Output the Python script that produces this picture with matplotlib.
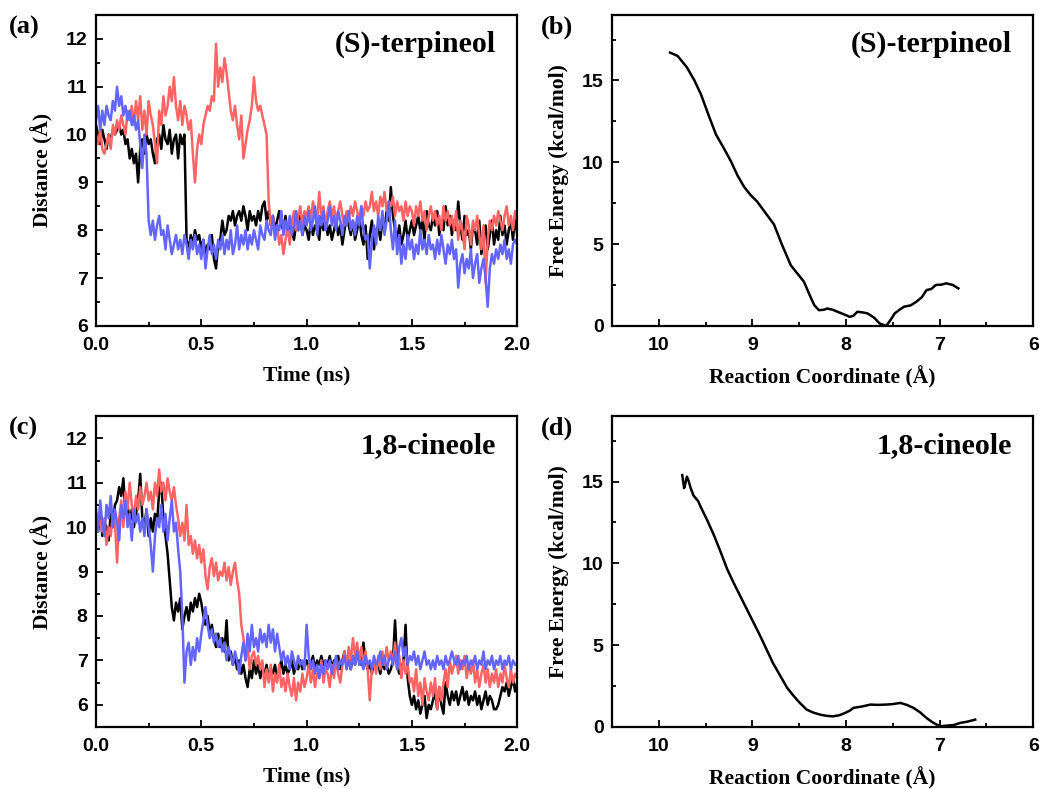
import numpy as np
import matplotlib
matplotlib.use("Agg")
import matplotlib.pyplot as plt
from matplotlib.ticker import MultipleLocator

# ---------------- data ----------------
# panel (a): (S)-terpineol distance traces, sampled every 0.01 ns (0 - 2 ns)
terp_black = [
    10.2, 10.0, 9.8, 10.1, 9.9, 9.7, 10.0, 9.9, 10.1, 10.0,
    10.1, 10.2, 10.0, 10.1, 9.8, 9.9, 9.5, 9.7, 9.4, 9.6,
    9.0, 9.7, 9.9, 9.6, 10.0, 9.8, 9.9, 9.6, 9.4, 9.9,
    10.0, 9.7, 10.2, 9.9, 9.8, 10.1, 9.6, 9.9, 10.0, 9.5,
    10.0, 9.8, 10.0, 7.8, 7.6, 7.9, 7.7, 8.0, 7.8, 7.9,
    7.6, 7.8, 7.5, 7.7, 7.6, 7.9, 7.4, 7.2, 7.7, 7.8,
    8.2, 7.9, 8.0, 8.3, 8.2, 8.4, 8.1, 8.3, 8.4, 8.2,
    8.5, 8.3, 8.0, 8.4, 8.2, 8.3, 8.1, 8.4, 8.2, 8.5,
    8.6, 8.2, 8.4, 8.1, 8.3, 8.0, 8.2, 8.4, 8.1, 8.0,
    8.3, 7.9, 8.2, 8.0, 7.8, 8.1, 8.0, 8.3, 7.9, 8.1,
    8.0, 7.8, 8.2, 7.9, 8.1, 8.0, 7.8, 8.3, 8.0, 8.2,
    7.9, 8.1, 7.8, 8.0, 8.2, 7.9, 8.1, 7.7, 8.0, 8.3,
    8.1, 7.9, 8.2, 7.8, 8.0, 8.3, 7.9, 7.7, 8.1, 7.4,
    7.9, 8.2, 7.6, 8.0, 8.1, 7.8, 8.2, 8.0, 8.4, 8.2,
    8.9, 8.3, 8.0, 7.8, 8.1, 7.7, 7.9, 8.2, 7.8, 8.0,
    8.2, 7.9, 8.1, 8.3, 8.0, 8.2, 7.8, 8.4, 8.1, 8.0,
    8.3, 8.1, 8.4, 7.9, 8.2, 8.0, 8.5, 8.1, 8.3, 7.9,
    8.2, 8.0, 8.6, 8.1, 7.8, 8.3, 7.9, 8.0, 7.6, 8.1,
    8.0, 7.7, 8.2, 7.5, 7.9, 8.1, 7.6, 7.9, 8.2, 7.7,
    8.0, 7.8, 8.3, 7.9, 8.1, 7.7, 8.0, 8.2, 7.8, 8.3,
    7.9]
terp_red = [
    10.0, 9.8, 10.1, 9.7, 9.6, 9.8, 10.0, 9.7, 10.2, 10.0,
    10.3, 10.1, 10.4, 10.2, 10.0, 10.5, 10.3, 10.6, 10.2, 10.7,
    10.3, 10.8, 10.1, 10.5, 10.0, 10.7, 10.4, 10.2, 9.8, 9.4,
    10.5, 10.2, 10.8, 10.4, 10.6, 11.0, 10.7, 11.2, 10.6, 10.3,
    10.7, 10.2, 10.6, 10.4, 10.1, 10.3, 9.6, 9.0, 9.7, 10.0,
    9.8, 10.2, 10.4, 10.6, 10.5, 10.8, 10.7, 11.9, 11.0, 11.4,
    11.1, 11.6, 11.3, 10.9, 10.5, 10.3, 10.6, 10.2, 9.9, 10.4,
    9.5, 9.8, 10.1, 10.3, 10.6, 11.2, 10.7, 10.5, 10.6, 10.4,
    10.2, 10.0, 8.6, 8.1, 8.3, 7.9, 8.1, 7.7, 7.9, 7.5,
    7.8, 8.1, 7.7, 8.2, 8.4, 8.0, 8.3, 8.5, 8.1, 8.4,
    8.3, 8.5, 8.2, 8.6, 8.4, 8.2, 8.8, 8.3, 8.5, 8.1,
    8.4, 8.6, 8.3, 8.5, 8.2, 8.4, 8.6, 8.3, 8.1, 8.4,
    8.2, 8.5, 8.3, 8.6, 8.4, 8.2, 8.5, 8.3, 8.6, 8.4,
    8.5, 8.8, 8.4, 8.6, 8.3, 8.7, 8.5, 8.8, 8.4, 8.6,
    8.5, 8.7, 8.3, 8.6, 8.4, 8.5, 8.2, 8.6, 8.3, 8.5,
    8.4, 8.1, 8.5, 8.3, 8.6, 8.2, 8.4, 8.0, 8.3, 8.5,
    8.2, 8.4, 8.1, 8.3, 8.0, 8.5, 8.2, 8.4, 8.1, 8.3,
    8.0, 8.4, 7.8, 8.2, 8.0, 7.6, 8.3, 8.1, 7.7, 8.2,
    8.0, 8.3, 7.9, 7.6, 8.1, 6.9, 7.8, 8.2, 8.0, 8.3,
    8.1, 8.4, 8.2, 8.0, 8.3, 8.5, 8.1, 8.3, 8.0, 8.4,
    8.2]
terp_blue = [
    10.3, 10.6, 10.1, 10.5, 10.2, 10.6, 10.4, 10.3, 10.7, 10.5,
    11.0, 10.6, 10.8, 10.4, 10.6, 10.3, 10.5, 10.2, 10.4, 10.1,
    10.3, 9.8, 9.3, 10.0, 9.6, 8.2, 7.9, 8.2, 7.8, 8.1,
    8.3, 7.9, 8.0, 7.6, 8.1, 7.8, 7.5, 7.7, 7.9, 7.6,
    7.8, 7.5, 7.9, 7.7, 7.4, 7.8, 7.6, 7.9, 7.5, 7.7,
    7.4, 7.8, 7.2, 7.6, 7.9, 7.5, 7.7, 7.4, 7.8, 7.6,
    7.9, 7.5, 7.8, 7.6, 8.0, 7.5, 7.7, 8.1, 7.6, 7.9,
    7.7, 8.0, 7.6, 7.9, 7.7, 8.0, 7.8, 7.6, 8.1, 7.9,
    7.8, 8.2, 8.0, 7.9, 8.3, 7.8, 8.1, 8.0, 8.4, 7.9,
    8.2, 8.0, 8.3, 7.9, 8.1, 8.4, 8.0, 8.2, 7.9, 8.3,
    8.1, 8.4, 8.0, 8.2, 8.5, 7.9, 8.3, 8.1, 8.4, 8.0,
    8.2, 8.5, 8.1, 8.3, 8.0, 8.4, 8.2, 7.9, 8.3, 8.1,
    8.4, 8.0, 8.2, 7.9, 8.3, 8.1, 8.5, 8.0, 7.8, 7.9,
    7.2, 7.8, 8.1, 7.7, 8.3, 8.0, 8.4, 7.9, 8.2, 8.6,
    8.0, 7.6, 8.2, 7.5, 7.9, 7.3, 7.7, 7.4, 7.9, 7.6,
    7.8, 7.4, 7.7, 7.5, 8.0, 7.6, 7.8, 7.5, 7.9, 7.6,
    7.7, 7.4, 7.8, 7.5, 7.9, 7.6, 7.3, 7.7, 7.5, 7.8,
    7.4, 7.6, 6.8, 7.3, 7.5, 7.1, 7.4, 7.2, 7.6, 7.0,
    7.3, 7.5, 6.9, 7.2, 7.4, 7.0, 6.4, 7.2, 7.5, 7.3,
    7.6, 7.4, 7.7, 7.5, 7.8, 7.4, 7.6, 7.3, 7.7, 7.8,
    7.7]

# panel (c): 1,8-cineole distance traces, sampled every 0.01 ns
cin_black = [
    10.2, 9.9, 10.4, 9.8, 10.1, 10.0, 9.7, 10.3, 10.0, 10.5,
    10.6, 10.9, 10.7, 11.1, 10.3, 10.5, 10.1, 10.4, 10.0, 10.3,
    10.6, 11.2, 10.2, 10.0, 10.4, 9.8, 10.2, 9.9, 10.3, 10.1,
    10.8, 11.0, 10.2, 9.8, 9.4, 8.8, 8.2, 7.9, 8.3, 8.1,
    8.4, 7.7, 8.0, 8.2, 7.9, 8.3, 8.1, 8.4, 8.2, 8.5,
    8.3, 8.0, 7.8, 8.0, 7.6, 7.8, 7.5, 7.3, 7.6, 7.3,
    7.5, 7.2, 7.9, 7.0, 7.2, 6.9, 7.1, 6.8, 7.0, 6.7,
    6.9, 6.6, 6.4, 6.8, 6.6, 7.0, 6.7, 6.9, 6.6, 6.8,
    6.7, 6.9, 6.6, 6.8, 6.7, 6.9, 6.6, 6.8, 7.0, 6.7,
    6.9, 6.7, 6.8, 7.0, 6.7, 6.9, 6.8, 7.0, 6.8, 6.9,
    7.0, 6.8, 6.9, 7.1, 6.8, 7.0, 6.9, 7.1, 6.9, 7.0,
    6.9, 7.1, 6.8, 7.0, 6.9, 7.1, 6.8, 7.0, 7.2, 6.9,
    7.0, 6.8, 7.1, 6.9, 7.2, 7.0, 6.9, 7.4, 7.0, 6.8,
    6.9, 6.7, 7.0, 6.8, 6.9, 6.7, 7.0, 6.8, 6.9, 6.7,
    6.8, 7.0, 7.9, 6.9, 6.7, 6.8, 7.0, 7.8, 6.6, 6.2,
    6.0, 6.2, 5.9, 6.1, 5.8, 6.0, 6.2, 5.7, 6.0, 5.9,
    6.1, 6.3, 5.9, 6.4, 6.0, 5.8, 6.5, 6.2, 6.0, 6.3,
    6.1, 6.3, 6.0, 6.2, 6.4, 6.1, 6.3, 6.0, 6.2, 6.1,
    6.3, 6.0, 6.2, 5.9, 6.1, 6.3, 6.0, 6.2, 6.1, 5.9,
    5.9, 6.0, 6.2, 6.4, 6.3, 6.5, 6.2, 6.4, 6.6, 6.3,
    6.5]
cin_red = [
    10.0, 10.3, 10.1, 9.9, 10.2, 9.6, 10.0, 9.8, 10.3, 10.1,
    9.2, 10.2, 10.6, 10.0, 10.8, 10.4, 11.0, 10.5, 10.2, 10.7,
    10.4, 10.9, 10.5, 10.7, 11.0, 10.6, 10.8, 10.4, 11.0, 10.7,
    11.3, 10.8, 11.0, 10.6, 11.1, 10.8, 10.6, 10.9, 10.5, 10.2,
    9.8, 10.1, 9.7, 10.5, 9.6, 9.8, 9.4, 9.7, 9.3, 9.6,
    9.2, 9.5, 8.9, 8.6, 9.1, 9.3, 8.9, 9.2, 8.8, 9.0,
    8.9, 9.2, 8.8, 9.1, 8.7, 9.0, 9.2, 8.8, 8.5, 7.8,
    7.5, 7.0, 7.3, 6.8, 7.1, 7.2, 6.9, 7.1, 6.8, 7.0,
    6.4, 6.8, 6.5, 6.9, 6.3, 6.7, 6.5, 6.9, 6.4, 6.6,
    6.3, 6.7, 6.4, 6.2, 6.6, 6.1, 6.5, 6.3, 6.7, 6.4,
    6.6, 6.9, 6.5, 6.8, 6.4, 6.7, 6.6, 7.0, 6.5, 6.8,
    6.7, 6.4, 6.9, 6.6, 7.0, 6.7, 6.5, 6.9, 7.2, 6.8,
    7.3, 7.0, 7.5, 7.1, 7.4, 7.0, 7.3, 6.9, 7.2, 6.8,
    6.1, 6.8, 7.0, 6.7, 7.1, 6.8, 7.2, 6.9, 7.3, 7.0,
    7.2, 6.9, 7.4, 6.8, 7.1, 6.6, 7.0, 6.7, 6.9, 6.5,
    6.6, 6.3, 6.8, 6.2, 6.5, 6.0, 6.6, 6.3, 6.1, 6.5,
    6.2, 6.6, 5.9, 6.4, 6.1, 6.5, 6.8, 6.4, 7.0, 6.7,
    6.9, 7.1, 6.7, 7.0, 6.8, 7.1, 6.6, 6.9, 6.7, 7.0,
    6.5, 6.8, 6.4, 6.7, 6.9, 6.5, 6.8, 6.4, 6.7, 6.5,
    6.8, 6.4, 6.7, 6.5, 6.9, 6.6, 6.4, 6.8, 6.5, 6.7,
    6.6]
cin_blue = [
    10.4, 9.9, 10.6, 10.1, 9.8, 10.5, 10.2, 10.7, 10.0, 10.4,
    10.1, 9.7, 10.5, 10.2, 10.6, 10.0, 10.3, 9.7, 10.4, 10.1,
    10.3, 9.9, 10.2, 9.8, 10.4, 10.0, 9.6, 9.0, 9.8, 10.2,
    10.0, 10.5, 9.9, 10.3, 9.7, 10.2, 10.6, 9.9, 10.1, 9.5,
    9.0, 8.0, 6.5, 7.2, 7.4, 6.9, 7.3, 7.0, 7.5, 7.2,
    7.6, 7.9, 8.2, 7.8, 7.5, 7.7, 7.4, 7.6, 7.3, 7.5,
    7.2, 7.4, 7.0, 7.3, 7.1, 6.9, 7.2, 7.0, 6.7, 7.1,
    7.4, 7.0, 7.6, 7.2, 7.8, 7.3, 7.5, 7.2, 7.7, 7.4,
    7.6, 7.3, 7.8, 7.4, 7.7, 7.2, 7.6, 7.3, 7.0, 7.2,
    6.9, 7.1, 6.8, 7.2, 7.0, 6.8, 7.1, 6.9, 7.0, 6.8,
    7.8, 7.1, 6.8, 7.0, 6.7, 6.9, 6.6, 6.9, 6.7, 7.0,
    6.8, 7.0, 6.7, 6.9, 7.1, 6.8, 7.0, 6.9, 7.1, 6.8,
    7.0, 6.8, 7.1, 6.9, 7.2, 6.9, 7.0, 6.8, 7.1, 6.9,
    7.0, 6.8, 7.1, 6.9, 7.0, 7.2, 6.9, 7.1, 6.8, 7.0,
    7.1, 6.9, 7.2, 6.8, 7.3, 7.5, 7.1, 7.3, 6.9, 7.1,
    7.0, 7.2, 6.9, 7.1, 6.8, 7.0, 7.2, 6.9, 7.0, 6.8,
    7.0, 6.8, 7.1, 6.9, 7.0, 6.8, 7.1, 6.9, 7.0, 7.2,
    7.0, 6.9, 7.1, 6.8, 7.0, 6.9, 7.1, 6.8, 7.0, 6.9,
    7.1, 6.8, 7.0, 6.9, 7.2, 6.8, 7.0, 6.9, 7.1, 6.8,
    7.0, 6.9, 7.1, 6.8, 7.0, 6.9, 7.1, 6.8, 7.0, 6.9,
    6.9]

# panel (b): free energy profile, (S)-terpineol
pmf_terp_x = [9.88, 9.80, 9.70, 9.62, 9.55, 9.47, 9.39, 9.31, 9.23, 9.16, 9.09,
              9.02, 8.95, 8.86, 8.77, 8.68, 8.59, 8.52, 8.45, 8.39, 8.34, 8.29,
              8.24, 8.20, 8.14, 8.09, 8.02, 7.96, 7.92, 7.88, 7.82, 7.77, 7.70,
              7.64, 7.57, 7.52, 7.48, 7.43, 7.38, 7.31, 7.25, 7.19, 7.14, 7.09,
              7.04, 6.98, 6.93, 6.86, 6.80]
pmf_terp_y = [16.7, 16.5, 15.8, 15.0, 14.15, 12.9, 11.7, 10.9, 10.06, 9.2, 8.5,
              8.0, 7.6, 6.9, 6.2, 4.9, 3.7, 3.2, 2.7, 1.9, 1.27, 0.96,
              0.98, 1.06, 0.98, 0.86, 0.70, 0.55, 0.62, 0.86, 0.82, 0.76, 0.50,
              0.14, 0.0, 0.40, 0.76, 0.98, 1.17, 1.25, 1.47, 1.75, 2.19, 2.25,
              2.50, 2.52, 2.60, 2.50, 2.29]

# panel (d): free energy profile, 1,8-cineole
pmf_cin_x = [9.75, 9.74, 9.73, 9.72, 9.70, 9.68, 9.66, 9.63, 9.58, 9.54, 9.48, 9.41,
             9.34, 9.27, 9.20, 9.13, 9.06, 8.99, 8.92, 8.85, 8.78, 8.70, 8.63,
             8.56, 8.49, 8.42, 8.35, 8.28, 8.21, 8.14, 8.07, 8.01, 7.96, 7.92,
             7.83, 7.74, 7.66, 7.57, 7.50, 7.42, 7.35, 7.28, 7.21, 7.14, 7.08,
             7.03, 6.98, 6.93, 6.85, 6.78, 6.70, 6.62]
pmf_cin_y = [15.4, 15.0, 14.6, 14.8, 15.3, 15.0, 14.6, 14.15, 13.8, 13.3, 12.6, 11.7,
             10.7, 9.65, 8.8, 8.0, 7.2, 6.4, 5.6, 4.75, 3.9, 3.1, 2.4,
             1.9, 1.45, 1.06, 0.88, 0.76, 0.68, 0.65, 0.72, 0.86, 1.0, 1.17,
             1.25, 1.37, 1.35, 1.37, 1.40, 1.47, 1.35, 1.17, 0.90, 0.55, 0.30,
             0.14, 0.05, 0.08, 0.12, 0.25, 0.33, 0.45]

panel_letters = ["(a)", "(b)", "(c)", "(d)"]
panel_titles = ["(S)-terpineol", "(S)-terpineol", "1,8-cineole", "1,8-cineole"]

# ---------------- style ----------------
RED = "#FF6464"
BLUE = "#6464FF"
SERIF = ["Liberation Serif", "DejaVu Serif"]
SANS = ["Liberation Sans", "DejaVu Sans"]

fig = plt.figure(figsize=(10.4, 7.89), dpi=100)

W = 0.405
H = 0.394
pos = {
    "a": [0.0923, 0.587, W, H],
    "b": [0.5885, 0.587, W, H],
    "c": [0.0923, 0.0786, W, H],
    "d": [0.5885, 0.0786, W, H],
}
LABEL_FS = 15.5
TITLE_FS = 21.5
LETTER_FS = 19

def style_axes(ax):
    for s in ax.spines.values():
        s.set_linewidth(1.6)
    ax.tick_params(which="both", direction="in", width=1.3,
                   top=False, right=False)
    ax.tick_params(which="major", length=5)
    ax.tick_params(which="minor", length=3)
    ax.tick_params(axis="x", pad=8)
    ax.tick_params(axis="y", pad=6)
    for lab in ax.get_xticklabels() + ax.get_yticklabels():
        lab.set_fontfamily(SANS)
        lab.set_fontweight("bold")
        lab.set_fontsize(14)

def dist_panel(ax, black, red, blue, ylim, title, letter):
    ax.plot(np.linspace(0.0, 2.0, len(black)), black, color="black", lw=1.8)
    ax.plot(np.linspace(0.0, 2.0, len(red)), red, color=RED, lw=1.8)
    ax.plot(np.linspace(0.0, 2.0, len(blue)), blue, color=BLUE, lw=1.8)
    ax.set_xlim(0, 2)
    ax.set_ylim(*ylim)
    ax.xaxis.set_major_locator(MultipleLocator(0.5))
    ax.xaxis.set_minor_locator(MultipleLocator(0.25))
    ax.yaxis.set_major_locator(MultipleLocator(1))
    ax.yaxis.set_minor_locator(MultipleLocator(0.5))
    ax.set_xticks([0, 0.5, 1.0, 1.5, 2.0])
    ax.set_xticklabels(["0.0", "0.5", "1.0", "1.5", "2.0"])
    style_axes(ax)
    ax.set_xlabel("Time (ns)", fontfamily=SERIF, fontweight="bold",
                  fontsize=LABEL_FS, labelpad=8.5)
    ax.set_ylabel("Distance (Å)", fontfamily=SERIF, fontweight="bold",
                  fontsize=LABEL_FS, labelpad=9)
    ax.text(0.95, 0.905, title, transform=ax.transAxes, ha="right",
            va="center", fontfamily=SERIF, fontweight="bold", fontsize=TITLE_FS)
    ax.text(-0.207, 0.96, letter, transform=ax.transAxes, ha="left",
            va="center", fontfamily=SERIF, fontweight="bold", fontsize=LETTER_FS)

def pmf_panel(ax, x, y, title, letter):
    ax.plot(x, y, color="black", lw=1.8)
    ax.set_xlim(10.5, 6)
    ax.set_ylim(0, 19)
    ax.xaxis.set_major_locator(MultipleLocator(1))
    ax.xaxis.set_minor_locator(MultipleLocator(0.5))
    ax.yaxis.set_major_locator(MultipleLocator(5))
    ax.yaxis.set_minor_locator(MultipleLocator(2.5))
    style_axes(ax)
    ax.set_xlabel("Reaction Coordinate (Å)", fontfamily=SERIF,
                  fontweight="bold", fontsize=LABEL_FS, labelpad=8.5)
    ax.set_ylabel("Free Energy (kcal/mol)", fontfamily=SERIF,
                  fontweight="bold", fontsize=LABEL_FS, labelpad=9)
    ax.text(0.95, 0.905, title, transform=ax.transAxes, ha="right",
            va="center", fontfamily=SERIF, fontweight="bold", fontsize=TITLE_FS)
    ax.text(-0.17, 0.96, letter, transform=ax.transAxes, ha="left",
            va="center", fontfamily=SERIF, fontweight="bold", fontsize=LETTER_FS)

ax_a = fig.add_axes(pos["a"])
dist_panel(ax_a, terp_black, terp_red, terp_blue, (6, 12.5),
           panel_titles[0], panel_letters[0])
ax_b = fig.add_axes(pos["b"])
pmf_panel(ax_b, pmf_terp_x, pmf_terp_y, panel_titles[1], panel_letters[1])
ax_c = fig.add_axes(pos["c"])
dist_panel(ax_c, cin_black, cin_red, cin_blue, (5.5, 12.5),
           panel_titles[2], panel_letters[2])
ax_d = fig.add_axes(pos["d"])
pmf_panel(ax_d, pmf_cin_x, pmf_cin_y, panel_titles[3], panel_letters[3])

fig.savefig("out.png", dpi=100)
